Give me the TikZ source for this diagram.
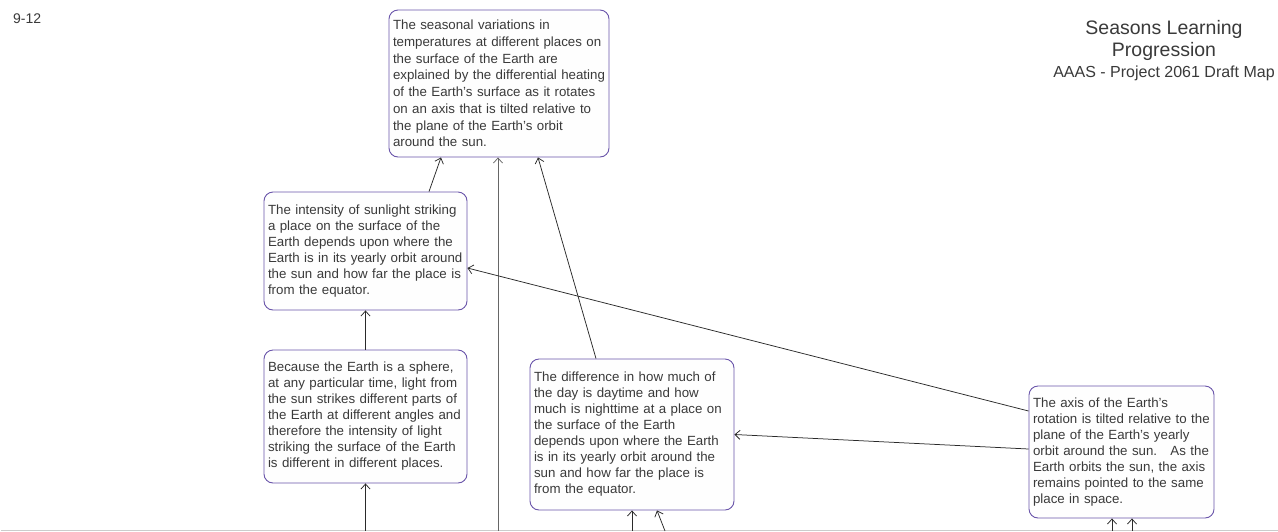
\documentclass[tikz,border=0pt]{standalone}
\usepackage{fontspec}
\setmainfont{Liberation Sans}
\usetikzlibrary{arrows.meta}
\definecolor{boxline}{HTML}{6A55AA}
\definecolor{boxfill}{HTML}{FEFEFE}
\definecolor{txt}{HTML}{3A3A3A}
\definecolor{arrcol}{HTML}{2A2A2A}
\definecolor{pageline}{HTML}{CCCCCC}
\newcommand\bxl[1]{\mbox{#1}}
\tikzset{
  box/.style={draw=boxline, fill=boxfill, line width=0.9pt, rounded corners=9pt,
    align=left, inner xsep=4pt, inner ysep=0pt, text=txt,
    font=\fontsize{13.3}{16}\selectfont},
  arr/.style={draw=arrcol, line width=0.75pt, -{Straight Barb[length=5pt,width=9pt]}},
  ttl/.style={text=txt, anchor=base, inner sep=0pt}
}
\begin{document}
\begin{tikzpicture}[x=1pt,y=-1pt]
\useasboundingbox (0,0) rectangle (1278,531);
\fill[white] (0,0) rectangle (1278,531);
\draw[pageline, line width=1pt] (1,530) -- (1278,530);

\node[ttl, anchor=base west, font=\fontsize{14}{16}\selectfont] (lvl) at (13,23) {9-12};
\node[ttl, font=\fontsize{19.5}{22}\selectfont] (t1) at (1164,34) {Seasons Learning};
\node[ttl, font=\fontsize{19.5}{22}\selectfont] (t2) at (1164,56) {Progression};
\node[ttl, font=\fontsize{16}{18}\selectfont] (t3) at (1164,77) {AAAS - Project 2061 Draft Map};

\node[box, font=\fontsize{13.3}{16.7}\selectfont, minimum width=220pt, minimum height=147pt, text width=212pt] (a) at (499,83.5)
{\bxl{The seasonal variations in}\\\bxl{temperatures at different places on}\\\bxl{the surface of the Earth are}\\\bxl{explained by the differential heating}\\\bxl{of the Earth's surface as it rotates}\\\bxl{on an axis that is tilted relative to}\\\bxl{the plane of the Earth's orbit}\\\bxl{around the sun.}};

\node[box, minimum width=203pt, minimum height=118pt, text width=195pt] (b) at (365.5,251)
{\bxl{The intensity of sunlight striking}\\\bxl{a place on the surface of the}\\\bxl{Earth depends upon where the}\\\bxl{Earth is in its yearly orbit around}\\\bxl{the sun and how far the place is}\\\bxl{from the equator.}};

\node[box, minimum width=203pt, minimum height=133pt, text width=195pt] (c) at (365.5,416.5)
{\bxl{Because the Earth is a sphere,}\\\bxl{at any particular time, light from}\\\bxl{the sun strikes different parts of}\\\bxl{the Earth at different angles and}\\\bxl{therefore the intensity of light}\\\bxl{striking the surface of the Earth}\\\bxl{is different in different places.}};

\node[box, minimum width=204pt, minimum height=151pt, text width=196pt] (d) at (632,434.5)
{\bxl{The difference in how much of}\\\bxl{the day is daytime and how}\\\bxl{much is nighttime at a place on}\\\bxl{the surface of the Earth}\\\bxl{depends upon where the Earth}\\\bxl{is in its yearly orbit around the}\\\bxl{sun and how far the place is}\\\bxl{from the equator.}};

\node[box, minimum width=185pt, minimum height=132pt, text width=177pt] (e) at (1121.5,452)
{\bxl{The axis of the Earth's}\\\bxl{rotation is tilted relative to the}\\\bxl{plane of the Earth's yearly}\\\bxl{orbit around the sun.\ \ \ As the}\\\bxl{Earth orbits the sun, the axis}\\\bxl{remains pointed to the same}\\\bxl{place in space.}};

\coordinate (inA) at (498,531);
\coordinate (inC) at (365.5,531);
\coordinate (inD1) at (632,531);
\coordinate (inD2) at (665,531);
\coordinate (inE1) at (1112,531);
\coordinate (inE2) at (1132,531);

\draw[arr] ([xshift=63.5pt]b.north) -- ([xshift=-58pt]a.south);
\draw[arr, draw=gray!80!black] (inA) -- ([xshift=-1pt]a.south);
\draw[arr] ([xshift=-36pt]d.north) -- ([xshift=39pt]a.south);
\draw[arr] (c.north) -- (b.south);
\draw[arr] (inC) -- (c.south);
\draw[arr] ([yshift=41pt]e.west) -- ([yshift=-17pt]b.east);
\draw[arr] ([yshift=3pt]e.west) -- (d.east);
\draw[arr] (inD1) -- (d.south);
\draw[arr] (inD2) -- ([xshift=25pt]d.south);
\draw[arr] (inE1) -- ([xshift=-9.5pt]e.south);
\draw[arr] (inE2) -- ([xshift=10.5pt]e.south);
\end{tikzpicture}
\end{document}
